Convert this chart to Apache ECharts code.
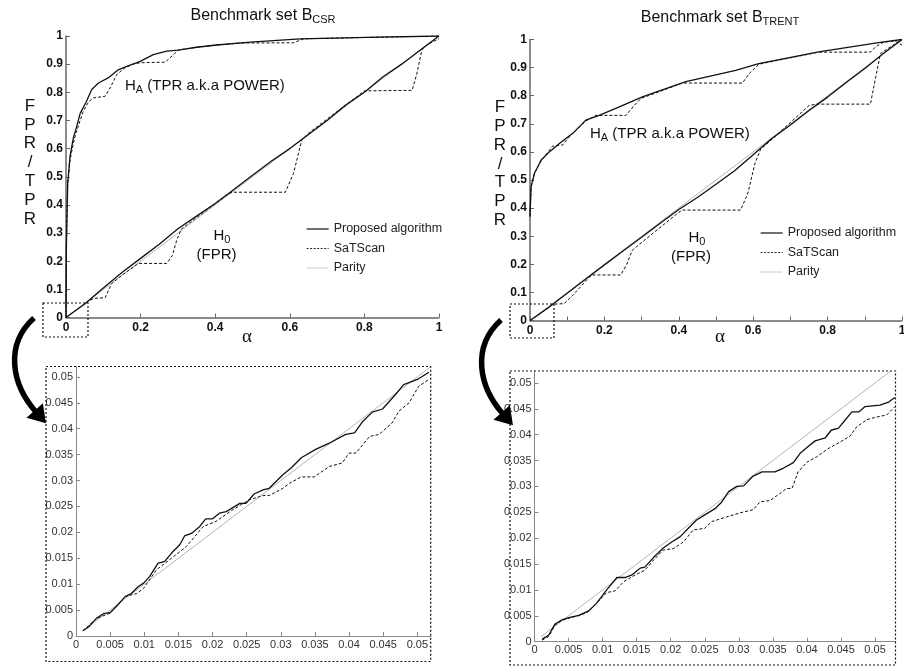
<!DOCTYPE html>
<html>
<head>
<meta charset="utf-8">
<script src="https://cdn.jsdelivr.net/npm/echarts@6/dist/echarts.min.js"></script>
<style>html,body{margin:0;background:#fff}#chart{width:904px;height:666px}</style>
</head>
<body>
<div id="chart"></div>
<script>
// ---- data: [alpha, rate] ----
var csrPropHA = [[0,0],[0.001,0.25],[0.0045,0.477],[0.011,0.575],[0.02,0.64],[0.029,0.68],[0.038,0.725],[0.055,0.768],[0.069,0.81],[0.087,0.833],[0.113,0.851],[0.14,0.88],[0.163,0.892],[0.199,0.91],[0.234,0.934],[0.27,0.946],[0.301,0.95],[0.35,0.96],[0.404,0.968],[0.494,0.978],[0.628,0.99],[0.807,0.995],[1,1]];
var csrSatHA = [[0,0],[0.001,0.25],[0.0045,0.47],[0.011,0.56],[0.02,0.62],[0.027,0.656],[0.046,0.732],[0.06,0.765],[0.073,0.78],[0.105,0.786],[0.12,0.82],[0.136,0.863],[0.158,0.887],[0.18,0.9],[0.199,0.905],[0.266,0.907],[0.285,0.93],[0.301,0.95],[0.35,0.96],[0.404,0.968],[0.467,0.975],[0.61,0.976],[0.637,0.99],[0.807,0.995],[1,1]];
var csrPropH0 = [[0,0],[0.05,0.048],[0.1,0.105],[0.15,0.16],[0.2,0.21],[0.25,0.26],[0.3,0.315],[0.35,0.36],[0.4,0.405],[0.45,0.455],[0.5,0.505],[0.55,0.555],[0.6,0.6],[0.65,0.65],[0.7,0.7],[0.75,0.755],[0.8,0.8],[0.85,0.855],[0.9,0.9],[0.95,0.95],[1,1]];
var csrSatH0 = [[0,0],[0.06,0.058],[0.075,0.068],[0.105,0.07],[0.122,0.12],[0.15,0.15],[0.194,0.192],[0.27,0.192],[0.285,0.22],[0.298,0.28],[0.31,0.315],[0.33,0.335],[0.431,0.435],[0.445,0.445],[0.588,0.445],[0.61,0.512],[0.632,0.63],[0.65,0.655],[0.8,0.805],[0.928,0.807],[0.941,0.868],[0.954,0.951],[0.968,0.969],[1,0.99]];
var csrParity = [[0,0],[1,1]];

var trentPropHA = [[0,0.37],[0.003,0.476],[0.012,0.524],[0.03,0.571],[0.052,0.6],[0.079,0.63],[0.115,0.666],[0.15,0.713],[0.186,0.73],[0.24,0.76],[0.302,0.796],[0.419,0.85],[0.553,0.89],[0.615,0.914],[0.776,0.956],[0.937,0.989],[1,1]];
var trentSatHA = [[0,0.37],[0.003,0.476],[0.012,0.524],[0.03,0.568],[0.06,0.62],[0.088,0.625],[0.1,0.645],[0.115,0.666],[0.15,0.71],[0.177,0.73],[0.258,0.73],[0.28,0.765],[0.298,0.79],[0.41,0.845],[0.571,0.845],[0.59,0.88],[0.615,0.912],[0.776,0.955],[0.915,0.955],[0.93,0.975],[0.95,0.99],[0.98,0.995],[1,0.98]];
var trentPropH0 = [[0,0],[0.05,0.046],[0.1,0.097],[0.15,0.148],[0.2,0.198],[0.25,0.247],[0.3,0.296],[0.35,0.346],[0.4,0.395],[0.45,0.438],[0.5,0.485],[0.55,0.533],[0.6,0.59],[0.65,0.648],[0.7,0.696],[0.75,0.747],[0.8,0.795],[0.85,0.847],[0.9,0.897],[0.95,0.95],[1,1]];
var trentSatH0 = [[0,0],[0.05,0.045],[0.06,0.058],[0.092,0.06],[0.115,0.09],[0.16,0.155],[0.168,0.162],[0.244,0.162],[0.26,0.2],[0.275,0.25],[0.293,0.27],[0.4,0.385],[0.41,0.393],[0.566,0.393],[0.585,0.45],[0.605,0.56],[0.62,0.61],[0.64,0.632],[0.75,0.765],[0.77,0.77],[0.915,0.77],[0.93,0.87],[0.942,0.95],[0.97,0.975],[1,1]];
var trentParity = [[0,0],[1,1]];

var csrZoomProp = [[0.001,0.001],[0.0019,0.0018],[0.003,0.0034],[0.004,0.0043],[0.005,0.0045],[0.0059,0.0057],[0.0072,0.0076],[0.0081,0.0082],[0.0091,0.0095],[0.0099,0.0102],[0.0108,0.0115],[0.012,0.014],[0.013,0.0144],[0.014,0.016],[0.0152,0.0176],[0.0159,0.0193],[0.0169,0.0198],[0.0181,0.0211],[0.019,0.0226],[0.02,0.0226],[0.021,0.0237],[0.022,0.024],[0.024,0.0256],[0.0249,0.0256],[0.0261,0.0274],[0.0274,0.0282],[0.0283,0.0285],[0.0303,0.0311],[0.0315,0.0324],[0.033,0.0344],[0.0351,0.036],[0.0371,0.0372],[0.0395,0.0389],[0.0408,0.0392],[0.042,0.0414],[0.0434,0.0432],[0.0449,0.0438],[0.0468,0.0466],[0.048,0.0485],[0.05,0.0495],[0.0517,0.0509]];
var csrZoomSat = [[0.001,0.001],[0.003,0.0034],[0.005,0.0044],[0.0072,0.0076],[0.0089,0.0082],[0.0099,0.0092],[0.0118,0.0128],[0.0137,0.0147],[0.0162,0.0173],[0.0186,0.0211],[0.0205,0.0221],[0.023,0.0244],[0.0254,0.0263],[0.0274,0.0271],[0.0283,0.0271],[0.0303,0.0285],[0.0313,0.0295],[0.033,0.0307],[0.0349,0.0307],[0.0371,0.0327],[0.039,0.0334],[0.04,0.0353],[0.041,0.0353],[0.043,0.0385],[0.0444,0.0389],[0.0463,0.0411],[0.0473,0.0434],[0.0488,0.045],[0.0502,0.0482],[0.0517,0.0495]];
var csrZoomParity = [[0.001,0.001],[0.052,0.052]];

var trentZoomProp = [[0.0011,0.00045],[0.0021,0.0013],[0.003,0.0034],[0.004,0.0042],[0.0052,0.0047],[0.0065,0.0051],[0.0079,0.0059],[0.0091,0.0074],[0.0106,0.01],[0.0121,0.0124],[0.0133,0.0124],[0.0143,0.0129],[0.0155,0.0142],[0.0162,0.0144],[0.0175,0.0163],[0.0189,0.0181],[0.0202,0.0193],[0.0214,0.0203],[0.0228,0.0222],[0.0238,0.0235],[0.025,0.0245],[0.0265,0.0257],[0.0275,0.027],[0.0285,0.029],[0.0297,0.03],[0.0307,0.0301],[0.0321,0.032],[0.0334,0.0328],[0.0353,0.0328],[0.0365,0.0335],[0.038,0.0346],[0.039,0.0364],[0.04,0.0375],[0.0412,0.0388],[0.0427,0.0394],[0.0436,0.0409],[0.0446,0.0412],[0.0454,0.0425],[0.0466,0.0444],[0.0476,0.0444],[0.0485,0.0454],[0.0507,0.0457],[0.052,0.0463],[0.0529,0.0472]];
var trentZoomSat = [[0.0011,0.0003],[0.0021,0.001],[0.003,0.0032],[0.004,0.0041],[0.0052,0.0046],[0.0067,0.0051],[0.0079,0.0058],[0.0091,0.0074],[0.0106,0.0095],[0.0118,0.0098],[0.0131,0.0116],[0.0148,0.0129],[0.0162,0.0138],[0.0175,0.0158],[0.0189,0.0177],[0.0204,0.018],[0.0219,0.0193],[0.0233,0.0216],[0.025,0.0219],[0.026,0.0232],[0.0282,0.0241],[0.0302,0.0249],[0.0321,0.0255],[0.0331,0.027],[0.0346,0.0273],[0.036,0.0286],[0.037,0.0296],[0.0378,0.0296],[0.0387,0.0328],[0.04,0.0347],[0.0414,0.0357],[0.0431,0.0373],[0.0449,0.0386],[0.0463,0.0397],[0.0473,0.0415],[0.0488,0.0429],[0.0502,0.0434],[0.0517,0.0438],[0.0529,0.0454]];
var trentZoomParity = [[0.001,0.001],[0.0523,0.0523]];

var legendNames = ['Proposed algorithm', 'SaTScan', 'Parity'];

var FONT = 'Liberation Sans, Arial, sans-serif';
var chart = echarts.init(document.getElementById('chart'));

function line(name, data, gi) {
    var ls = { color: '#111', width: 1.3, type: 'solid' };
    var z = 3;
    if (name === 'SaTScan') ls = { color: '#111', width: 1, type: [3, 2] };
    if (name === 'Parity') { ls = { color: '#b4b4b4', width: 1, type: 'solid' }; z = 2; }
    return {
        type: 'line', name: name, data: data, xAxisIndex: gi, yAxisIndex: gi,
        symbol: 'none', lineStyle: ls, z: z, silent: true, animation: false
    };
}

function bigX(gi, interval, fmt) {
    return {
        type: 'value', gridIndex: gi, min: 0, max: 1, interval: interval,
        splitLine: { show: false },
        axisLine: { lineStyle: { color: '#666', width: 1.5 } },
        axisTick: { inside: true, length: 4, lineStyle: { color: '#666' } },
        axisLabel: { margin: 4, fontSize: 12, fontWeight: 'bold', color: '#111', fontFamily: FONT, formatter: fmt }
    };
}
function bigY(gi) {
    return {
        type: 'value', gridIndex: gi, min: 0, max: 1, interval: 0.1,
        splitLine: { show: false },
        axisLine: { show: true, lineStyle: { color: '#666', width: 1.5 } },
        axisTick: { show: true, inside: true, length: 4, lineStyle: { color: '#666' } },
        axisLabel: { margin: 3, fontSize: 12, fontWeight: 'bold', color: '#111', fontFamily: FONT }
    };
}
function smallAxis(gi, max) {
    return {
        type: 'value', gridIndex: gi, min: 0, max: max, interval: 0.005,
        splitLine: { show: false },
        axisLine: { show: true, lineStyle: { color: '#888', width: 1 } },
        axisTick: { show: true, inside: true, length: 4, lineStyle: { color: '#888' } },
        axisLabel: { margin: 3, fontSize: 11, color: '#333', fontFamily: FONT, showMaxLabel: false,
            formatter: function (v) { return Math.abs(v / 0.005 - Math.round(v / 0.005)) < 1e-6 ? String(v) : ''; } }
    };
}

function evenTenth(v) { return Math.round(v * 10) % 2 === 0 ? String(+v.toFixed(1)) : ''; }

function legendBlock(left, top) {
    return {
        orient: 'vertical', left: left, top: top, padding: 0, itemGap: 5.5,
        itemWidth: 22, itemHeight: 14, selectedMode: false,
        itemStyle: { opacity: 0 },
        textStyle: { fontSize: 12.5, color: '#222', fontFamily: FONT, lineHeight: 14 },
        data: [
            { name: legendNames[0], lineStyle: { width: 1.3, color: '#222', type: 'solid' } },
            { name: legendNames[1], lineStyle: { width: 1, color: '#222', type: [2, 1.5] } },
            { name: legendNames[2], lineStyle: { width: 1, color: '#999', type: [1, 1] } }
        ]
    };
}

function txt(x, y, text, size, extra) {
    var s = { text: text, x: 0, y: 0, fontSize: size, fontFamily: FONT, fill: '#111', align: 'center', verticalAlign: 'middle' };
    for (var k in extra) s[k] = extra[k];
    return { type: 'text', x: x, y: y, style: s, z: 10 };
}
function richLabel(x, y, main, sub, tail, size, subSize, align) {
    return {
        type: 'text', x: x, y: y, z: 10,
        style: {
            text: '{m|' + main + '}{s|' + sub + '}' + (tail ? '{m|' + tail + '}' : ''),
            align: align, verticalAlign: 'middle', fill: '#111',
            rich: {
                m: { fontSize: size, fontFamily: FONT, fill: '#111' },
                s: { fontSize: subSize, fontFamily: FONT, fill: '#111', padding: [subSize * 0.8, 0, 0, 0] }
            }
        }
    };
}
function box(x, y, w, h) {
    return { type: 'rect', shape: { x: x, y: y, width: w, height: h }, z: 5,
        style: { fill: 'none', stroke: '#111', lineWidth: 1.2, lineDash: [2, 2] } };
}
function arrow(dx, dy) {
    var sx = 34 + dx, sy = 318 + dy, ex = 36 + dx, ey = 412 + dy;
    var ux = 0.664, uy = 0.747, px = -0.747, py = 0.664, hw = 11;
    var bx = ex - ux * 2, by = ey - uy * 2;
    return [
        { type: 'bezierCurve', z: 6, shape: { x1: sx, y1: sy, cpx1: 4 + dx, cpy1: 345 + dy, cpx2: 12 + dx, cpy2: 385 + dy, x2: ex, y2: ey },
          style: { stroke: '#000', lineWidth: 5.5, fill: 'none' } },
        { type: 'polygon', z: 6, shape: { points: [[ex + ux * 15, ey + uy * 15], [bx + px * hw, by + py * hw], [bx - px * hw, by - py * hw]] },
          style: { fill: '#000' } }
    ];
}

var ylabel = 'F\nP\nR\n/\nT\nP\nR';

var option = {
    backgroundColor: '#fff',
    animation: false,
    grid: [
        { left: 66, top: 36, width: 373, height: 281.5, outerBoundsMode: 'none' },
        { left: 530, top: 39.5, width: 372, height: 281, outerBoundsMode: 'none' },
        { left: 76, top: 366.5, width: 355, height: 269.5, outerBoundsMode: 'none' },
        { left: 534.5, top: 371, width: 361, height: 270.7, outerBoundsMode: 'none' }
    ],
    xAxis: [bigX(0, 0.2), bigX(1, 0.1, evenTenth), smallAxis(2, 0.052), smallAxis(3, 0.053)],
    yAxis: [bigY(0), bigY(1), smallAxis(2, 0.052), smallAxis(3, 0.0523)],
    legend: [legendBlock(306, 222), legendBlock(760, 226)],
    series: [
        line('Parity', csrParity, 0),
        line('Proposed algorithm', csrPropHA, 0),
        line('SaTScan', csrSatHA, 0),
        line('Proposed algorithm', csrPropH0, 0),
        line('SaTScan', csrSatH0, 0),
        line('Parity', trentParity, 1),
        line('Proposed algorithm', trentPropHA, 1),
        line('SaTScan', trentSatHA, 1),
        line('Proposed algorithm', trentPropH0, 1),
        line('SaTScan', trentSatH0, 1),
        line('Parity', csrZoomParity, 2),
        line('Proposed algorithm', csrZoomProp, 2),
        line('SaTScan', csrZoomSat, 2),
        line('Parity', trentZoomParity, 3),
        line('Proposed algorithm', trentZoomProp, 3),
        line('SaTScan', trentZoomSat, 3)
    ],
    graphic: [
        richLabel(263, 16, 'Benchmark set B', 'CSR', '', 16, 11, 'center'),
        richLabel(720, 18, 'Benchmark set B', 'TRENT', '', 16, 11, 'center'),
        txt(30, 162.5, ylabel, 17, { lineHeight: 18.8 }),
        txt(500, 164, ylabel, 17, { lineHeight: 18.8 }),
        txt(247, 337, '\u03b1', 19, { fontFamily: 'Liberation Serif, DejaVu Serif, serif' }),
        txt(720, 337, '\u03b1', 19, { fontFamily: 'Liberation Serif, DejaVu Serif, serif' }),
        richLabel(125, 86, 'H', 'A', ' (TPR a.k.a POWER)', 15, 11, 'left'),
        richLabel(590, 134, 'H', 'A', ' (TPR a.k.a POWER)', 15, 11, 'left'),
        richLabel(222, 236, 'H', '0', '', 15, 11, 'center'),
        txt(216.5, 255, '(FPR)', 15),
        richLabel(697, 238, 'H', '0', '', 15, 11, 'center'),
        txt(691, 257, '(FPR)', 15),
        box(43, 303, 45, 34),
        box(510, 304, 44, 34),
        box(46, 366.5, 384.7, 295),
        box(510, 371, 385.5, 294)
    ].concat(arrow(0, 0), arrow(467, 2))
};

chart.setOption(option);
</script>
</body>
</html>
